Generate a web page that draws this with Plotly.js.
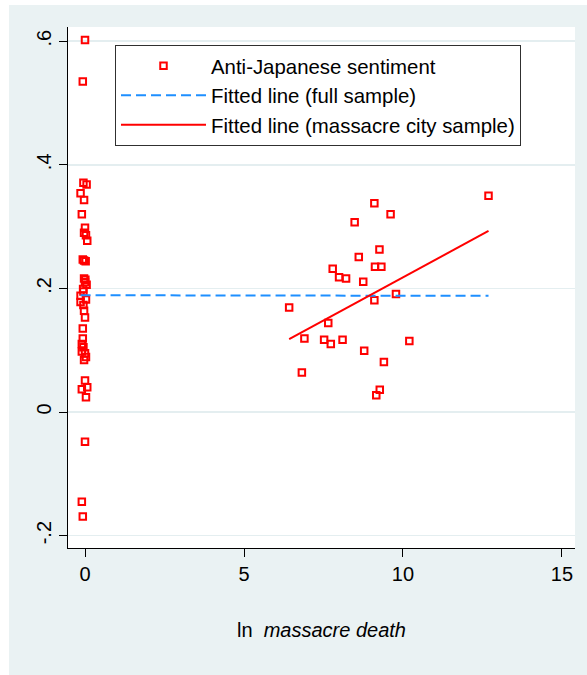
<!DOCTYPE html>
<html>
<head>
<meta charset="utf-8">
<script src="https://cdn.plot.ly/plotly-3.0.1.min.js"></script>
<style>
  html, body { margin: 0; padding: 0; background: #ffffff; }
  #chart { position: absolute; left: 9px; top: 5px; width: 578px; height: 670px; }
</style>
</head>
<body>
<div id="chart"></div>
<script>
// Cities without massacre deaths (ln value 0, spread slightly so the squares stay visible)
var noMassacreX = [0.00, -0.07, -0.05, 0.05, -0.14, -0.03, -0.10, 0.00, -0.03, 0.03,
                   0.07, -0.07, -0.03, 0.02, -0.03, 0.01, 0.00, 0.05, -0.06, -0.05,
                   -0.14, 0.03, -0.14, -0.05, -0.03, 0.00, -0.07, -0.07, -0.10, -0.05,
                   -0.10, 0.00, 0.03, -0.03, 0.00, 0.07, -0.10, 0.03, 0.00, -0.10, -0.07];
var noMassacreY = [0.602, 0.535, 0.371, 0.368, 0.354, 0.343, 0.320, 0.298, 0.290, 0.286,
                   0.277, 0.247, 0.245, 0.244, 0.216, 0.214, 0.210, 0.206, 0.199, 0.195,
                   0.188, 0.182, 0.178, 0.173, 0.164, 0.153, 0.135, 0.119, 0.110, 0.105,
                   0.098, 0.095, 0.089, 0.084, 0.051, 0.040, 0.037, 0.024, -0.048, -0.145, -0.169];

// Massacre cities: ln(massacre death) and anti-Japanese sentiment
var massacreX = [12.69, 9.10, 9.61, 8.48, 9.26, 8.61, 9.12, 9.32, 7.79, 7.99,
                 8.21, 8.75, 9.78, 9.10, 6.42, 7.65, 6.90, 7.52, 7.73, 8.10,
                 10.20, 8.78, 9.40, 6.82, 9.27, 9.16];
var massacreY = [0.350, 0.338, 0.320, 0.307, 0.263, 0.251, 0.235, 0.235, 0.232, 0.218,
                 0.216, 0.211, 0.191, 0.181, 0.169, 0.144, 0.119, 0.117, 0.110, 0.117,
                 0.115, 0.099, 0.081, 0.064, 0.036, 0.027];

// Fitted lines (endpoints)
var fullFitX = [-0.14, 12.69];
var fullFitY = [0.189, 0.188];
var cityFitX = [6.42, 12.69];
var cityFitY = [0.118, 0.293];

// Axis ticks
var xTicks = [0, 5, 10, 15];
var yTicks = [-0.2, 0, 0.2, 0.4, 0.6];
var yTickText = ['-.2', '0', '.2', '.4', '.6'];

var FONT = 'Liberation Sans, Arial, sans-serif';
var RED = '#ff0000';
var BLUE = '#1e8fff';

var traces = [
  {
    x: noMassacreX.concat(massacreX),
    y: noMassacreY.concat(massacreY),
    type: 'scatter', mode: 'markers',
    name: 'Anti-Japanese sentiment',
    marker: { symbol: 'square-open', size: 6.5, color: RED, line: { color: RED, width: 2 } }
  },
  {
    x: fullFitX, y: fullFitY,
    type: 'scatter', mode: 'lines',
    name: 'Fitted line (full sample)',
    line: { color: BLUE, width: 2, dash: '10px,5px' }
  },
  {
    x: cityFitX, y: cityFitY,
    type: 'scatter', mode: 'lines',
    name: 'Fitted line (massacre city sample)',
    line: { color: RED, width: 2 }
  }
];

var layout = {
  width: 578, height: 670,
  margin: { l: 59, r: 12, t: 22, b: 127 },
  paper_bgcolor: '#eaf2f3',
  plot_bgcolor: '#ffffff',
  font: { family: FONT, size: 20, color: '#000000' },
  showlegend: true,
  legend: {
    x: 0.0927, y: 0.9655, xanchor: 'left', yanchor: 'top',
    bgcolor: '#ffffff', bordercolor: '#303030', borderwidth: 1,
    font: { family: FONT, size: 20.4, color: '#000000' },
    itemwidth: 85, tracegroupgap: 0
  },
  xaxis: {
    range: [-0.535, 15.41],
    tickmode: 'array', tickvals: xTicks,
    ticks: 'outside', ticklen: 8, tickwidth: 1, tickcolor: '#000000',
    showline: true, linecolor: '#000000', linewidth: 1,
    showgrid: false, zeroline: false,
    tickfont: { family: FONT, size: 20 },
    title: { text: 'ln  <i>massacre death</i>', font: { family: FONT, size: 20 }, standoff: 38 }
  },
  yaxis: {
    range: [-0.22, 0.623],
    tickmode: 'array', tickvals: yTicks, ticktext: yTickText,
    tickangle: -90,
    ticks: 'outside', ticklen: 8, tickwidth: 1, tickcolor: '#000000',
    showline: true, linecolor: '#000000', linewidth: 1,
    showgrid: true, gridcolor: '#e4eef0', gridwidth: 1.5,
    zeroline: false,
    tickfont: { family: FONT, size: 20 }
  }
};

Plotly.newPlot('chart', traces, layout, { displayModeBar: false, staticPlot: true });
</script>
</body>
</html>
